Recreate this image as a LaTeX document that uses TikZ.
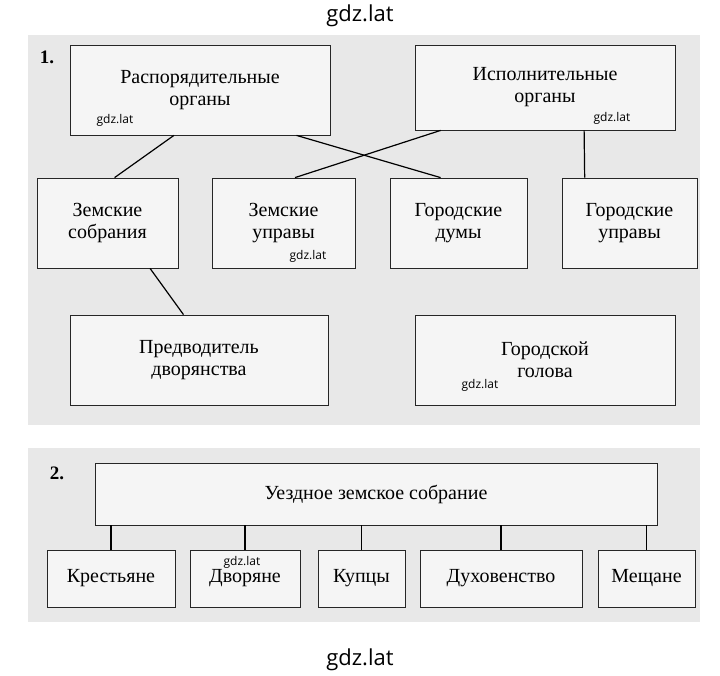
\documentclass[tikz,border=0pt]{standalone}
\usepackage{fontspec}
\setmainfont{Liberation Serif}
\newfontfamily\wmfont{Open Sans}
\usetikzlibrary{positioning,calc}
\tikzset{
	panel/.style={fill=black!9,draw=none},
	box/.style={draw=black!85,thick,fill=black!4,align=center,font=\fontsize{20}{22}\selectfont,inner sep=0pt},
	wm/.style={font=\wmfont\fontsize{#1}{#1}\selectfont},
	link/.style={draw,very thick}
}
\newcommand{\boxat}[6]{\node[box,minimum width=#4-#2,minimum height=#5-#3] (#1) at ({(#2+#4)/2},{(#3+#5)/2}) {#6};}
\begin{document}
\begin{tikzpicture}[x=1pt,y=-1pt]
  \useasboundingbox[fill=white] (0,0) rectangle (720,676);
  \fill[panel] (28,35) rectangle (700,425);
  \fill[panel] (28,448) rectangle (700,622);
  % part 1
  \node[font=\fontsize{19}{21}\selectfont\bfseries] (n1) at (47,57) {1.};
  \boxat{rasp}{70}{45}{330}{135}{Распорядительные\\органы}
  \boxat{isp}{415}{45}{675}{130}{Исполнительные\\органы}
  \boxat{zs}{37}{178}{178}{268}{Земские\\собрания}
  \boxat{zu}{212}{178}{355}{268}{Земские\\управы}
  \boxat{gd}{390}{178}{527}{268}{Городские\\думы}
  \boxat{gu}{562}{178}{697}{268}{Городские\\управы}
  \boxat{pd}{70}{315}{328}{405}{Предводитель\\дворянства}
  \boxat{gg}{415}{315}{675}{405}{Городской\\голова}
  \draw[link] ($(rasp.south west)!.4!(rasp.south east)$) -- ($(zs.north west)!.55!(zs.north east)$);
  \draw[link] ($(rasp.south west)!.87!(rasp.south east)$) -- ($(gd.north west)!.37!(gd.north east)$);
  \draw[link] ($(isp.south west)!.1!(isp.south east)$) -- ($(zu.north west)!.58!(zu.north east)$);
  \draw[link] ($(isp.south west)!.65!(isp.south east)$) -- ($(gu.north west)!.17!(gu.north east)$);
  \draw[link] ($(zs.south west)!.8!(zs.south east)$) -- ($(pd.north west)!.44!(pd.north east)$);
  % part 2
  \node[font=\fontsize{19}{21}\selectfont\bfseries] (n2) at (57,473) {2.};
  \boxat{uzs}{95}{463}{657}{525}{Уездное земское собрание}
  \boxat{kr}{47}{550}{175}{607}{Крестьяне}
  \boxat{dv}{190}{550}{300}{607}{Дворяне}
  \boxat{ku}{318}{550}{405}{607}{Купцы}
  \boxat{du}{420}{550}{582}{607}{Духовенство}
  \boxat{me}{598}{550}{695}{607}{Мещане}
  \foreach \b in {kr,dv,ku,du,me}
    \draw[link] (\b.north) -- (\b.north |- uzs.south);
  % watermarks
  \node[wm=22] (w1) at (360,16) {gdz.lat};
  \node[wm=22] (w2) at (360,660) {gdz.lat};
  \foreach \x/\y in {115/120,612/118,308/256,480/385,242/562}
    \node[wm=12] at (\x,\y) {gdz.lat};
\end{tikzpicture}
\end{document}
